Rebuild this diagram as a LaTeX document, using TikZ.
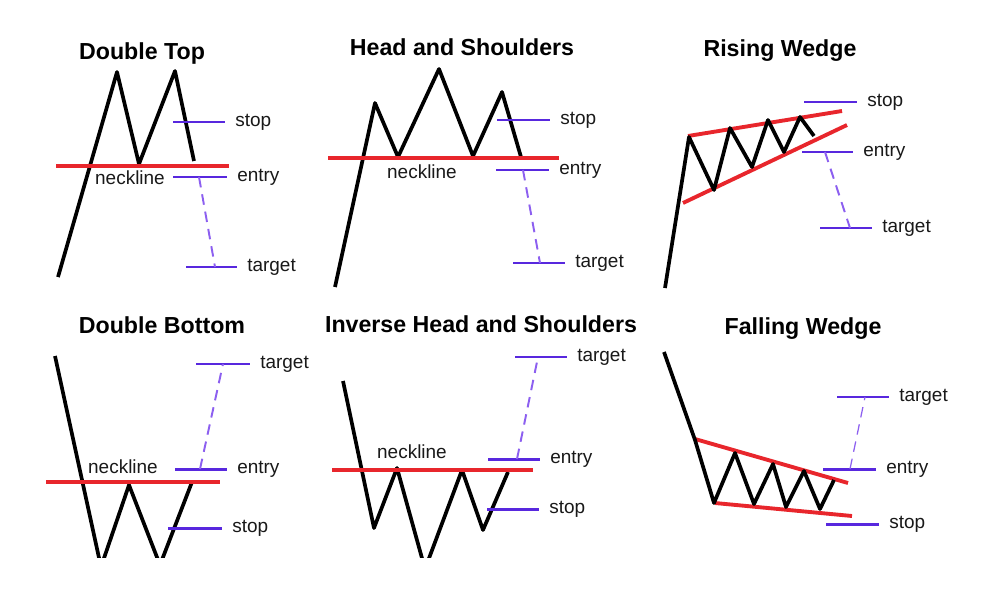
\documentclass[tikz,border=0pt]{standalone}
\usepackage{fontspec}
\setmainfont{Liberation Sans}
\usetikzlibrary{positioning}
\definecolor{neckred}{RGB}{232,38,44}
\definecolor{levelblue}{RGB}{88,40,222}
\definecolor{dashblue}{RGB}{140,95,240}

\begin{document}
\begin{tikzpicture}[
        x=0.02cm, y=-0.02cm,
        price/.style={line width=2.1pt, black, line join=round},
        neck/.style={line width=2.2pt, neckred},
        level/.style={line width=1.7pt, levelblue},
        move/.style={line width=1.1pt, dashblue, dash pattern=on 6pt off 4pt},
        title/.style={font=\bfseries\fontsize{13.2}{15}\selectfont, anchor=base},
        lbl/.style={font=\fontsize{10.8}{13}\selectfont, text=black!90, anchor=mid west, inner sep=0pt, xshift=5pt},
        necklbl/.style={font=\fontsize{10.8}{13}\selectfont, text=black!90, anchor=mid, inner sep=0pt},
    ]
        \useasboundingbox[fill=white] (0,0) rectangle (994,602);

        % Double Top
        \node[title] (dt) at (142,59) {Double Top};
        \draw[price] (58,277) -- (117,72) -- (139,164) -- (175,71) -- (194,161);
        \draw[neck] (56,166) -- (229,166);
        \node[necklbl] (dtneck) at (130,180) {neckline};
        \draw[level] (173,122) -- (225,122) node[lbl] (dtstop) {stop};
        \draw[level] (173,177) -- (227,177) node[lbl] (dtentry) {entry};
        \draw[level] (186,267) -- (237,267) node[lbl] (dttarget) {target};
        \coordinate (dtfrom) at (199,177);
        \coordinate (dtto) at (215,267);
        \draw[move] (dtfrom) -- (dtto);

        % Head and Shoulders
        \node[title] (hs) at (462,55) {Head and Shoulders};
        \draw[price] (335,287) -- (375,103) -- (398,157) -- (439,69) -- (473,156) -- (502,92) -- (521,157);
        \draw[neck] (328,158) -- (559,158);
        \node[necklbl] (hsneck) at (422,174) {neckline};
        \draw[level] (497,120) -- (550,120) node[lbl] (hsstop) {stop};
        \draw[level] (496,170) -- (549,170) node[lbl] (hsentry) {entry};
        \draw[level] (513,263) -- (565,263) node[lbl] (hstarget) {target};
        \coordinate (hsfrom) at (523,170);
        \coordinate (hsto) at (540,263);
        \draw[move] (hsfrom) -- (hsto);

        % Rising Wedge
        \node[title] (rw) at (780,56) {Rising Wedge};
        \draw[neck] (688,136) -- (842,111);
        \draw[neck] (683,203) -- (847,125);
        \draw[price] (665,288) -- (689,137) -- (714,190) -- (730,128) -- (752,167) -- (768,120) -- (784,152) -- (800,117) -- (814,136);
        \draw[level] (804,102) -- (857,102) node[lbl] (rwstop) {stop};
        \draw[level] (802,152) -- (853,152) node[lbl] (rwentry) {entry};
        \draw[level] (820,228) -- (872,228) node[lbl] (rwtarget) {target};
        \coordinate (rwfrom) at (825,152);
        \coordinate (rwto) at (850,228);
        \draw[move] (rwfrom) -- (rwto);

        % bottom row patterns are cut off at the lower edge
        \begin{scope}
            \clip (0,0) rectangle (994,557);
            \draw[price] (55,356) -- (101,567) -- (129,485) -- (160,565) -- (192,482);
            \draw[price] (343,381) -- (374,528) -- (397,468) -- (425,569) -- (462,470) -- (483,530) -- (508,472);
        \end{scope}

        % Double Bottom
        \node[title] (db) at (162,333) {Double Bottom};
        \draw[neck] (46,482) -- (220,482);
        \node[necklbl] (dbneck) at (123,469) {neckline};
        \draw[level] (196,364) -- (250,364) node[lbl] (dbtarget) {target};
        \draw[level] (175,469) -- (227,469) node[lbl] (dbentry) {entry};
        \draw[level] (168,528) -- (222,528) node[lbl] (dbstop) {stop};
        \coordinate (dbfrom) at (200,469);
        \coordinate (dbto) at (223,364);
        \draw[move] (dbfrom) -- (dbto);

        % Inverse Head and Shoulders
        \node[title] (ihs) at (481,332) {Inverse Head and Shoulders};
        \draw[neck] (332,470) -- (533,470);
        \node[necklbl] (ihsneck) at (412,454) {neckline};
        \draw[level] (515,357) -- (567,357) node[lbl] (ihstarget) {target};
        \draw[level] (488,459) -- (540,459) node[lbl] (ihsentry) {entry};
        \draw[level] (487,509) -- (539,509) node[lbl] (ihsstop) {stop};
        \coordinate (ihsfrom) at (517,459);
        \coordinate (ihsto) at (538,357);
        \draw[move] (ihsfrom) -- (ihsto);

        % Falling Wedge
        \node[title] (fw) at (803,334) {Falling Wedge};
        \draw[neck] (695,439) -- (848,483);
        \draw[neck] (715,503) -- (852,516);
        \draw[price] (664,352) -- (695,440) -- (714,503) -- (735,453) -- (754,504) -- (773,464) -- (786,507) -- (804,471) -- (820,509) -- (834,480);
        \draw[level] (837,397) -- (889,397) node[lbl] (fwtarget) {target};
        \draw[level] (823,469) -- (876,469) node[lbl] (fwentry) {entry};
        \draw[level] (826,524) -- (879,524) node[lbl] (fwstop) {stop};
        \coordinate (fwfrom) at (850,469);
        \coordinate (fwto) at (865,397);
        \draw[move, line width=0.7pt] (fwfrom) -- (fwto);
    \end{tikzpicture}
\end{document}
